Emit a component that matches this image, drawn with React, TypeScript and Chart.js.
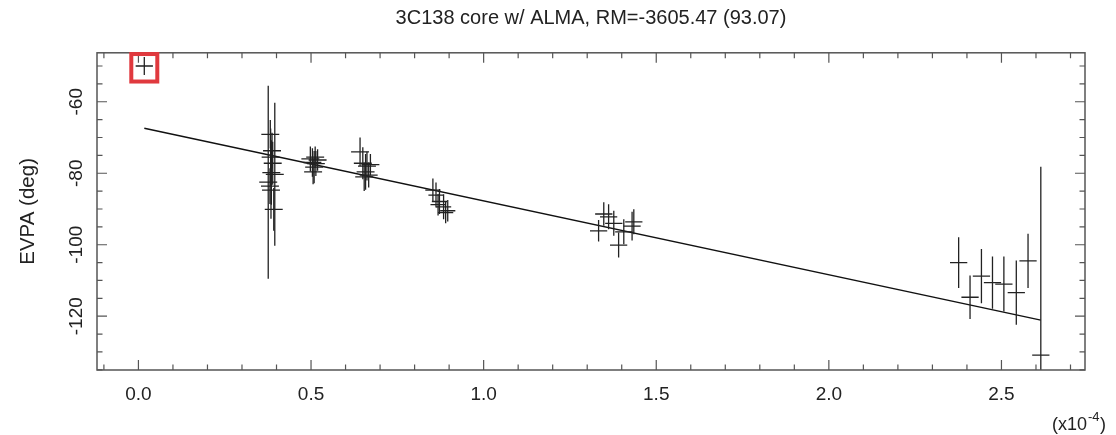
import React, { useEffect, useRef } from "react";
import { Chart, registerables } from "chart.js";

Chart.register(...registerables);

const FONT = "'Liberation Sans', Arial, Helvetica, sans-serif";
const TITLE = "3C138 core w/ ALMA, RM=-3605.47 (93.07)";
const Y_TITLE = "EVPA (deg)";

// lambda^2 in units of 1e-4 m^2
const lambdaSq = [
  0.017,
  0.382, 0.387, 0.383, 0.389, 0.376, 0.395, 0.385, 0.384, 0.392, 0.381,
  0.498, 0.504, 0.509, 0.514, 0.519, 0.506, 0.512,
  0.642, 0.65, 0.658, 0.667, 0.662, 0.654, 0.672,
  0.853, 0.862, 0.872, 0.884, 0.896, 0.868, 0.89,
  1.348, 1.362, 1.377, 1.333, 1.43, 1.435, 1.406, 1.391,
  2.376, 2.409, 2.442, 2.474, 2.507, 2.543, 2.577, 2.614,
];
const evpa = [
  -50.0,
  -69.1, -73.7, -75.5, -77.2, -82.5, -80.3, -79.8, -84.7, -90.1, -83.6,
  -76.0, -77.0, -78.3, -77.3, -76.3, -79.6, -75.5,
  -74.0, -77.2, -79.6, -80.5, -78.0, -81.0, -77.6,
  -84.7, -86.1, -87.9, -89.4, -90.5, -88.8, -91.0,
  -91.4, -92.2, -94.0, -96.1, -94.8, -93.6, -96.4, -100.1,
  -105.0, -114.7, -108.8, -110.6, -111.0, -113.4, -104.5, -130.9,
];
const lambdaSqErr = [
  0.025,
  0.026, 0.026, 0.026, 0.026, 0.026, 0.026, 0.026, 0.026, 0.026, 0.026,
  0.026, 0.026, 0.026, 0.026, 0.026, 0.026, 0.026,
  0.026, 0.026, 0.026, 0.026, 0.026, 0.026, 0.026,
  0.022, 0.022, 0.022, 0.022, 0.022, 0.022, 0.022,
  0.025, 0.025, 0.025, 0.025, 0.025, 0.025, 0.025, 0.025,
  0.025, 0.025, 0.025, 0.025, 0.025, 0.025, 0.025, 0.025,
];
const evpaErr = [
  2.5,
  4, 5, 8, 6, 27, 20, 9, 8, 6, 5,
  3.5, 4, 4.5, 3.5, 3, 3.5, 3,
  4, 4.5, 5, 3.5, 4, 4, 3,
  3.2, 3.5, 3.5, 3.5, 3, 3, 3,
  3.3, 3.5, 3.5, 3, 4, 3.5, 3.5, 3.5,
  7.1, 6.1, 7.6, 7.3, 7.7, 9.0, 7.6, 52.7,
];
const fitX = [0.017, 2.614];
const fitY = [-67.4, -121.1];
const highlightIndex = 0;

const X_MIN = -0.12;
const X_MAX = 2.742;
const Y_MIN = -135.05;
const Y_MAX = -46.3;

const errorBarPlugin = {
  id: "errorBars",
  afterDatasetsDraw(chart: any) {
    const { ctx, chartArea, scales } = chart;
    const x = scales.x;
    const y = scales.y;
    const ds = chart.data.datasets[0];
    ctx.save();
    ctx.beginPath();
    ctx.rect(chartArea.left, chartArea.top, chartArea.right - chartArea.left, chartArea.bottom - chartArea.top);
    ctx.clip();
    ctx.strokeStyle = "#222";
    ctx.lineWidth = 1.3;
    ds.data.forEach((p: any) => {
      const px = x.getPixelForValue(p.x);
      const py = y.getPixelForValue(p.y);
      ctx.beginPath();
      ctx.moveTo(x.getPixelForValue(p.x - p.xErr), py);
      ctx.lineTo(x.getPixelForValue(p.x + p.xErr), py);
      ctx.moveTo(px, y.getPixelForValue(p.y - p.yErr));
      ctx.lineTo(px, y.getPixelForValue(p.y + p.yErr));
      ctx.stroke();
    });
    ctx.restore();
  },
  afterDraw(chart: any) {
    const { ctx, chartArea, scales } = chart;
    const x = scales.x;
    const y = scales.y;
    const { left, right, top, bottom } = chartArea;
    ctx.save();
    // frame
    ctx.strokeStyle = "#555";
    ctx.lineWidth = 1.5;
    ctx.strokeRect(left, top, right - left, bottom - top);
    // inward ticks
    const MAJ = 10;
    const MIN = 5.5;
    ctx.lineWidth = 1.2;
    ctx.beginPath();
    for (let i = Math.ceil(X_MIN * 10); i <= Math.floor(X_MAX * 10); i++) {
      const v = i / 10;
      const len = i % 5 === 0 ? MAJ : MIN;
      const px = x.getPixelForValue(v);
      ctx.moveTo(px, bottom);
      ctx.lineTo(px, bottom - len);
      ctx.moveTo(px, top);
      ctx.lineTo(px, top + len);
    }
    for (let i = Math.ceil(Y_MIN / 5); i <= Math.floor(Y_MAX / 5); i++) {
      const v = i * 5;
      const len = i % 4 === 0 ? MAJ : MIN;
      const py = y.getPixelForValue(v);
      ctx.moveTo(left, py);
      ctx.lineTo(left + len, py);
      ctx.moveTo(right, py);
      ctx.lineTo(right - len, py);
    }
    ctx.stroke();

    // highlighted point box
    const hp = chart.data.datasets[0].data[highlightIndex];
    const hx = x.getPixelForValue(hp.x);
    const hy = y.getPixelForValue(hp.y);
    ctx.strokeStyle = "#e0393e";
    ctx.lineWidth = 4;
    ctx.strokeRect(hx - 13, hy - 12, 26, 27.5);

    // axis multiplier label
    ctx.fillStyle = "#222";
    ctx.textBaseline = "alphabetic";
    ctx.textAlign = "left";
    ctx.font = `18px ${FONT}`;
    const base = "(x10";
    const sx = right - 33;
    const by = 429.5;
    ctx.fillText(base, sx, by);
    const w1 = ctx.measureText(base).width;
    ctx.font = `13px ${FONT}`;
    ctx.fillText("-4", sx + w1 + 1, by - 8.5);
    const w2 = ctx.measureText("-4").width;
    ctx.font = `18px ${FONT}`;
    ctx.fillText(")", sx + w1 + 1 + w2 + 0.5, by);
    ctx.restore();
  },
};

export default function App() {
  const ref = useRef<HTMLCanvasElement | null>(null);
  useEffect(() => {
    if (!ref.current) return;
    const points = lambdaSq.map((v, i) => ({
      x: v,
      y: evpa[i],
      xErr: lambdaSqErr[i],
      yErr: evpaErr[i],
    }));
    const fit = fitX.map((v, i) => ({ x: v, y: fitY[i] }));
    const chart = new Chart(ref.current, {
      type: "scatter",
      data: {
        datasets: [
          {
            type: "scatter",
            data: points as any,
            pointRadius: 0,
            pointHoverRadius: 0,
            showLine: false,
          },
          {
            type: "line",
            data: fit as any,
            borderColor: "#111",
            borderWidth: 1.5,
            pointRadius: 0,
            fill: false,
          },
        ],
      },
      options: {
        animation: false,
        responsive: true,
        maintainAspectRatio: false,
        layout: { padding: { left: 0, right: 31, top: 0, bottom: 0 } },
        plugins: {
          legend: { display: false },
          tooltip: { enabled: false },
          title: {
            display: true,
            text: TITLE,
            fullSize: false,
            color: "#222",
            font: { family: FONT, size: 20, weight: "normal" as any },
            padding: { top: 6, bottom: 22.8 },
          },
        },
        scales: {
          x: {
            type: "linear",
            min: X_MIN,
            max: X_MAX,
            grid: { display: false, drawTicks: false },
            border: { display: false },
            ticks: {
              stepSize: 0.5,
              includeBounds: false,
              autoSkip: false,
              maxRotation: 0,
              padding: 13.6,
              color: "#222",
              font: { family: FONT, size: 19 },
              callback: (v: any) => Number(v).toFixed(1),
            },
            afterFit: (s: any) => {
              s.height = 65;
            },
          },
          y: {
            type: "linear",
            min: Y_MIN,
            max: Y_MAX,
            grid: { display: false, drawTicks: false },
            border: { display: false },
            ticks: {
              stepSize: 20,
              includeBounds: false,
              autoSkip: false,
              minRotation: 90,
              maxRotation: 90,
              crossAlign: "center",
              padding: 1,
              color: "#222",
              font: { family: FONT, size: 19 },
              callback: (v: any) => String(v),
            },
            title: {
              display: true,
              text: Y_TITLE,
              color: "#222",
              font: { family: FONT, size: 20.5 },
              padding: { top: 15.7, bottom: 0 },
            },
            afterFit: (s: any) => {
              s.width = 97;
            },
          },
        },
      },
      plugins: [errorBarPlugin],
    });
    return () => chart.destroy();
  }, []);
  return (
    <div style={{ position: "fixed", left: 0, top: 0, width: 1116, height: 435, background: "#fff" }}>
      <canvas ref={ref} />
    </div>
  );
}
